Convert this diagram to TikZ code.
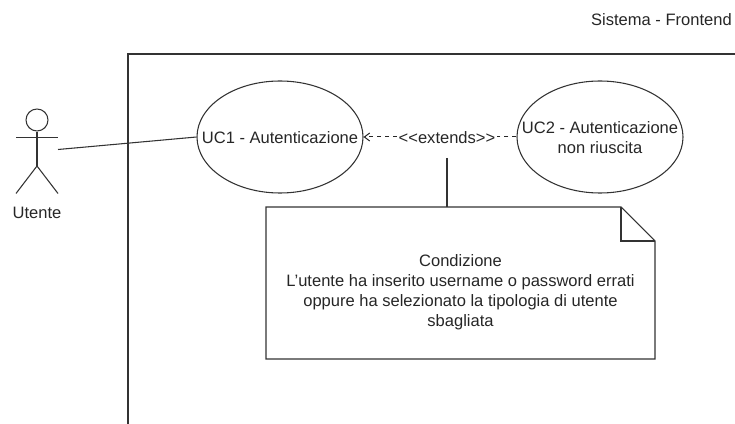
\documentclass[tikz,border=0pt]{standalone}
\usepackage{fontspec}
\setmainfont{Liberation Sans}
\usetikzlibrary{arrows.meta,shapes.geometric}
\tikzset{
  every node/.style={text=black!85},
  ln/.style={draw=black!80,line width=0.8pt},
  txt/.style={font=\fontsize{12.4pt}{15pt}\selectfont,align=center,inner sep=0pt},
  uc/.style={ellipse,draw=black!80,line width=0.8pt,inner sep=0pt,minimum width=124.5pt,minimum height=84pt}
}
\begin{document}
\begin{tikzpicture}[x=0.75pt,y=-0.75pt]
\useasboundingbox (0,0) rectangle (735,424);
\coordinate (tl) at (128,54);
\coordinate (tr) at (735,54);
\coordinate (bl) at (128,424);
\draw[ln] (bl) -- (tl) -- (tr);
\node[txt,anchor=east] (sys) at (732,20) {Sistema - Frontend};
% actor
\node[circle,ln,minimum size=16.5pt,inner sep=0pt] (head) at (37,120) {};
\coordinate (hip) at (37,166);
\coordinate (armL) at (16,137.5);
\coordinate (armR) at (58,137.5);
\coordinate (legL) at (16,193.5);
\coordinate (legR) at (58,193.5);
\coordinate (actorside) at (58,149.5);
\draw[ln] (head.south) -- (hip);
\draw[ln] (armL) -- (armR);
\draw[ln] (legL) -- (hip) -- (legR);
\node[txt] (utente) at (37,213) {Utente};
% use cases
\node[uc] (uc1) at (280,137) {};
\node[txt] (uc1t) at (280,138) {UC1 - Autenticazione};
\node[uc] (uc2) at (600,137) {};
\node[txt] (uc2t) at (600,138) {UC2 - Autenticazione\\non riuscita};
\draw[ln] (actorside) -- (uc1.west);
\node[txt,inner xsep=1pt] (ext) at (447,138) {<{}<extends>{}>};
\draw[draw=black!85,line width=0.75pt,dash pattern=on 3pt off 3pt] (uc2.west) -- (ext.east |- uc2.west);
\draw[draw=black!85,line width=0.75pt,dash pattern=on 3pt off 3pt,-{Straight Barb[length=4pt,width=6pt]}] (ext.west |- uc1.east) -- (uc1.east);
% note
\coordinate (n1) at (266,207);
\coordinate (n2) at (621,207);
\coordinate (n3) at (655,241);
\coordinate (n4) at (655,359);
\coordinate (n5) at (266,359);
\coordinate (n6) at (621,241);
\coordinate (notetop) at (447,207);
\coordinate (extdown) at (447,158);
\draw[ln] (n1) -- (n2) -- (n3) -- (n4) -- (n5) -- cycle;
\draw[ln] (n2) -- (n6) -- (n3);
\draw[ln] (extdown) -- (notetop);
\node[txt] (cond) at (460.5,292) {Condizione\\L'utente ha inserito username o password errati\\oppure ha selezionato la tipologia di utente\\sbagliata};
\end{tikzpicture}
\end{document}
